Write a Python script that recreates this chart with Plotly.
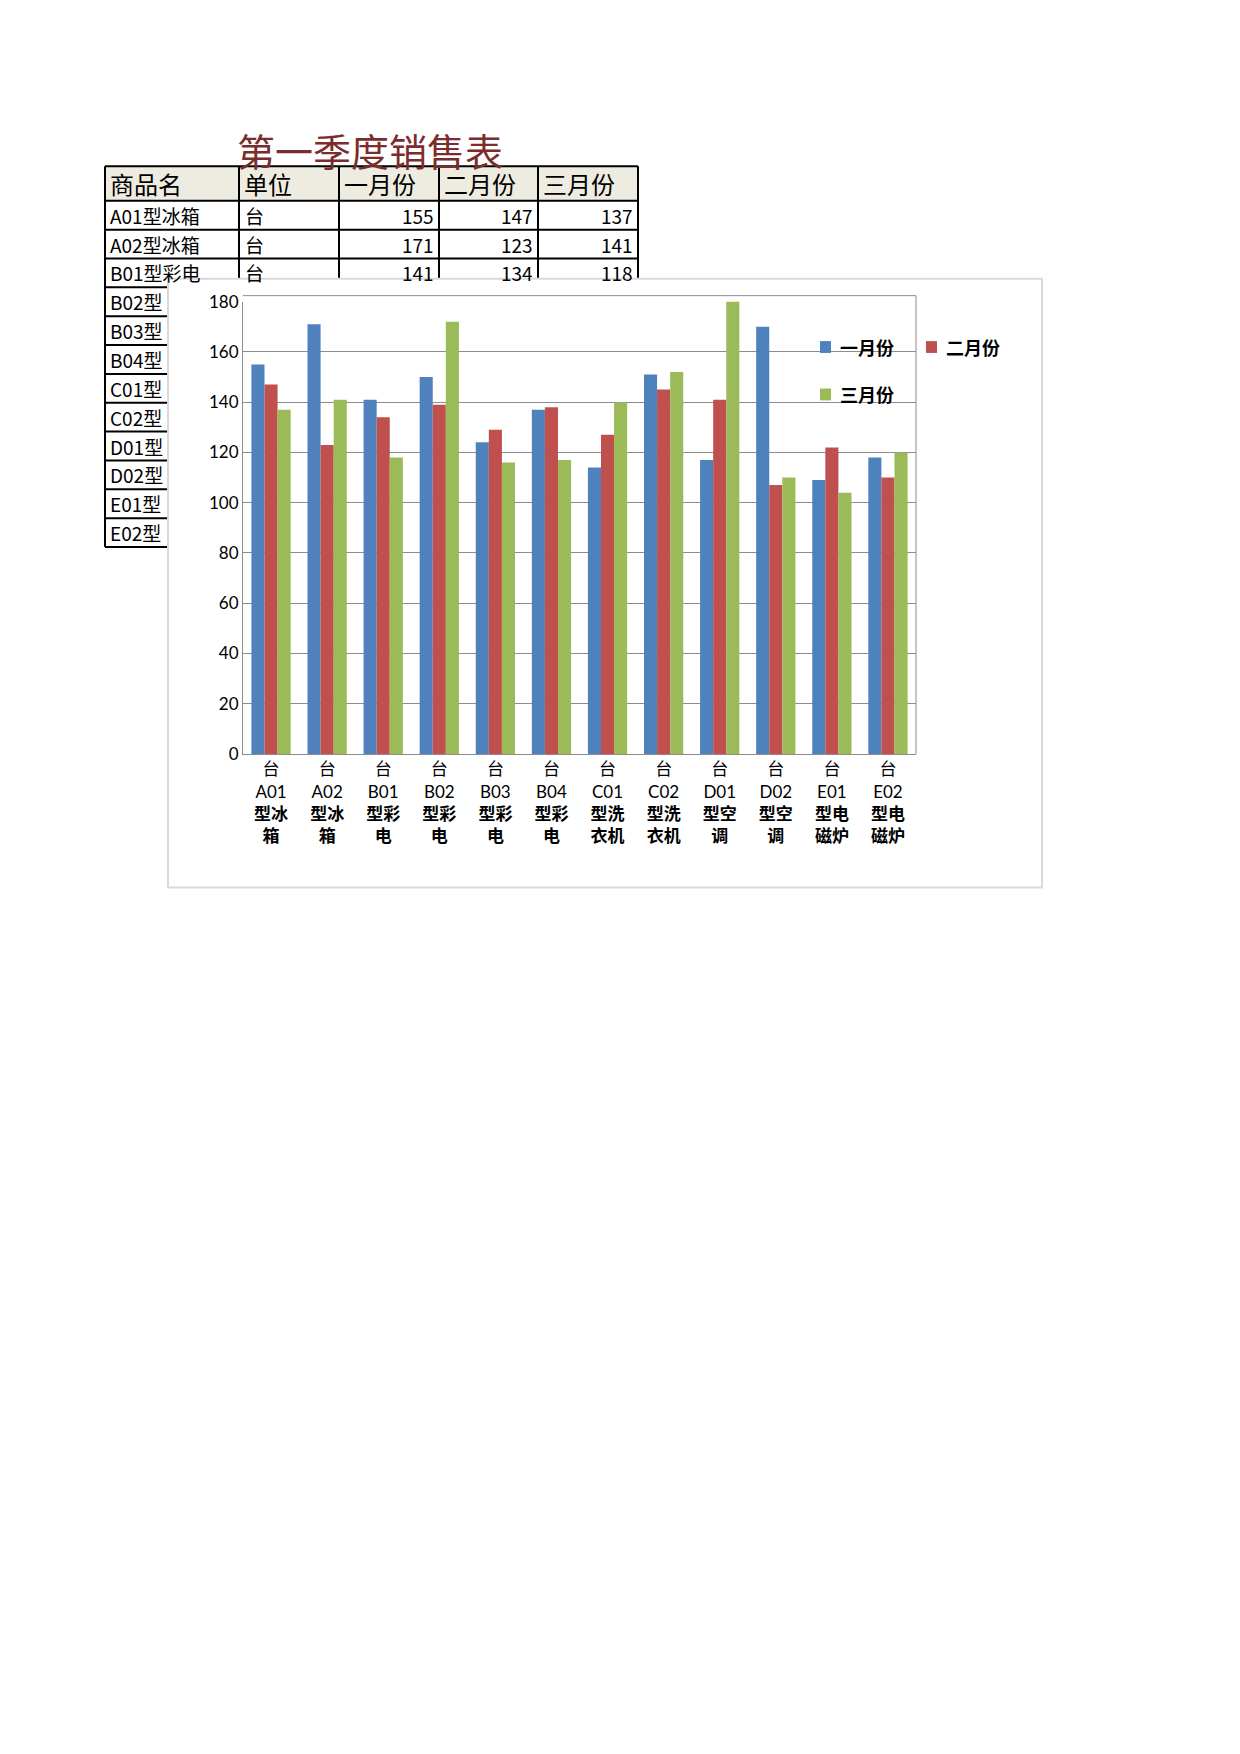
import plotly.graph_objects as go

W, H = 1240, 1754
products = ["A01型冰箱","A02型冰箱","B01型彩电","B02型彩电","B03型彩电","B04型彩电",
            "C01型洗衣机","C02型洗衣机","D01型空调","D02型空调","E01型电磁炉","E02型电磁炉"]
unit = "台"
months = ["一月份","二月份","三月份"]
jan = [155,171,141,150,124,137,114,151,117,170,109,118]
feb = [147,123,134,139,129,138,127,145,141,107,122,110]
mar = [137,141,118,172,116,117,140,152,180,110,104,120]
colors = ["#4f81bd","#c0504d","#9bbb59"]

def px(x): return x / W
def py(y): return 1 - y / H

def tick(p):
    code = p[:3]; rest = p[3:]
    a = rest[:2]; b = rest[2:]
    return f"{unit}<br>{code}<br><b>{a}</b><br><b>{b}</b>"

cats = [tick(p) for p in products]
fig = go.Figure()
for name, vals, c in zip(months, [jan, feb, mar], colors):
    fig.add_trace(go.Bar(x=cats, y=vals, name=name, marker=dict(color=c, line=dict(color=c, width=0)),
                         showlegend=False))

shapes, ann = [], []
def A(x, y, text, xa, font):
    ann.append(dict(x=px(x), y=py(y), xref="paper", yref="paper", text=text, showarrow=False,
                    xanchor=xa, yanchor="middle", font=font))

# table
cols = [97, 231, 331, 431, 530, 630]
top, hb, rh = 149, 184, 29.2
rows = [top, hb] + [hb + rh * i for i in range(1, 13)]
shapes.append(dict(type="rect", xref="paper", yref="paper", x0=px(cols[0]), x1=px(cols[-1]), y0=py(top), y1=py(hb),
                   fillcolor="#eeece1", line=dict(width=0), layer="below"))
for y in rows:
    shapes.append(dict(type="line", xref="paper", yref="paper", x0=px(cols[0]), x1=px(cols[-1]), y0=py(y), y1=py(y),
                       line=dict(color="black", width=2), layer="below"))
for x in cols:
    shapes.append(dict(type="line", xref="paper", yref="paper", x0=px(x), x1=px(x), y0=py(top), y1=py(rows[-1]),
                       line=dict(color="black", width=2), layer="below"))
tfont = dict(family="Noto Sans CJK SC", size=24, color="black")
for i, h in enumerate(["商品名", "单位"] + months):
    A(cols[i] + 3, (top + hb) / 2, h, "left", tfont)
rfont = dict(family="Noto Sans CJK SC", size=19, color="black")
for r, p in enumerate(products):
    yc = (rows[r + 1] + rows[r + 2]) / 2
    if r < 3:
        A(cols[0] + 3, yc, p, "left", rfont)
        A(cols[1] + 4, yc, unit, "left", rfont)
        for k, v in enumerate([jan[r], feb[r], mar[r]]):
            A(cols[k + 3] - 3, yc, str(v), "right", rfont)
    else:
        A(cols[0] + 3, yc, p[:4], "left", rfont)
# chart box
shapes.append(dict(type="rect", xref="paper", yref="paper", x0=px(160), x1=px(1034), y0=py(263), y1=py(879),
                   fillcolor="white", line=dict(color="#d9d9d9", width=2), layer="below"))
# title
A(362, 132, "第一季度销售表", "center", dict(family="Noto Sans CJK SC", size=38, color="#7b2c2c"))
# legend
leg = [(812, 332), (918, 332), (812, 380)]
for (lx, ly), name, c in zip(leg, months, colors):
    shapes.append(dict(type="rect", xref="paper", yref="paper", x0=px(lx), x1=px(lx + 11), y0=py(ly - 6), y1=py(ly + 6),
                       fillcolor=c, line=dict(width=0)))
    A(lx + 18, ly, f"<b>{name}</b>", "left", dict(family="Noto Sans CJK SC", size=18, color="black"))

PL, PR, PT, PB = 235, 908, 286, 744
fig.update_layout(
    width=W, height=H, margin=dict(l=0, r=0, t=0, b=0),
    paper_bgcolor="white", plot_bgcolor="rgba(0,0,0,0)",
    barmode="group", bargap=0.3, bargroupgap=0.0,
    shapes=shapes, annotations=ann,
    xaxis=dict(domain=[px(PL), px(PR)], showgrid=False, tickangle=0,
               tickfont=dict(family="Lato, Noto Sans CJK SC", size=17, color="black"),
               showline=True, linecolor="#8c8c8c", ticks=""),
    yaxis=dict(domain=[py(PB), py(PT)], range=[0, 180], dtick=20, showgrid=True, gridcolor="#8c8c8c",
               tickfont=dict(family="Lato", size=17, color="black"), showline=True, linecolor="#8c8c8c",
               ticks="", zeroline=False),
)
fig.add_shape(type="line", xref="paper", yref="paper", x0=px(PR), x1=px(PR), y0=py(PB), y1=py(PT - 6),
              line=dict(color="#8c8c8c", width=1))
fig.add_shape(type="line", xref="paper", yref="paper", x0=px(PL), x1=px(PR), y0=py(PT - 6), y1=py(PT - 6),
              line=dict(color="#8c8c8c", width=1))
fig.write_html("out.html")
